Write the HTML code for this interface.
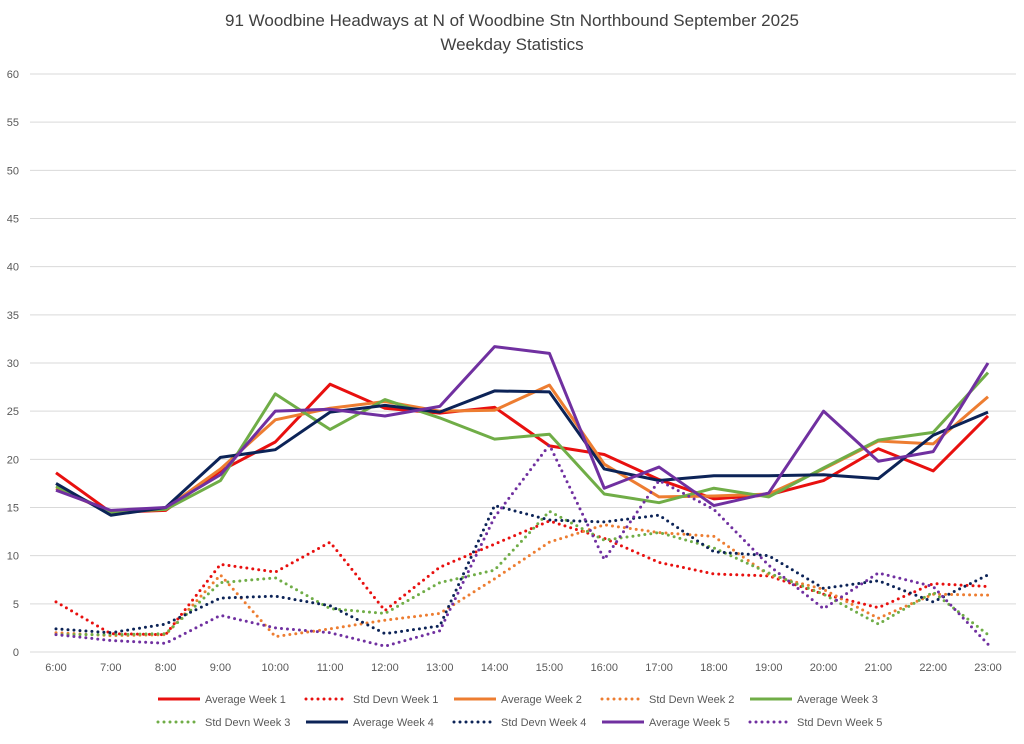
<!DOCTYPE html>
<html><head><meta charset="utf-8"><style>
body{margin:0;background:#fff;font-family:"Liberation Sans",sans-serif}
svg text{font-family:"Liberation Sans",sans-serif}
</style></head><body>
<svg id="chart" width="1024" height="739" xmlns="http://www.w3.org/2000/svg">
<text x="512" y="26" text-anchor="middle" font-size="17" fill="#404040">91 Woodbine Headways at N of Woodbine Stn Northbound September 2025</text>
<text x="512" y="50" text-anchor="middle" font-size="17" fill="#404040">Weekday Statistics</text>
<g id="grid"></g><g id="series"></g><g id="legend"></g>
</svg>
<script>
const categories=["6:00","7:00","8:00","9:00","10:00","11:00","12:00","13:00","14:00","15:00","16:00","17:00","18:00","19:00","20:00","21:00","22:00","23:00"];
const yTicks=[0,5,10,15,20,25,30,35,40,45,50,55,60];
const avgW1=[18.6,14.5,14.7,18.8,21.8,27.8,25.3,24.8,25.4,21.4,20.5,17.9,15.9,16.3,17.8,21.1,18.8,24.5];
const sdW1=[5.2,1.9,1.8,9.1,8.3,11.4,4.3,8.8,11.2,13.6,11.8,9.3,8.1,7.9,6.0,4.6,7.1,6.8];
const avgW2=[17.0,14.5,14.9,19.0,24.1,25.3,26.0,25.0,25.1,27.7,19.5,16.1,16.2,16.4,19.0,21.9,21.6,26.5];
const sdW2=[2.0,1.7,1.8,8.0,1.6,2.4,3.3,4.0,7.6,11.4,13.2,12.4,12.0,8.0,6.5,3.5,6.0,5.9];
const avgW3=[17.2,14.5,14.8,17.8,26.8,23.1,26.2,24.3,22.1,22.6,16.4,15.5,17.0,16.1,19.1,22.0,22.8,29.0];
const sdW3=[1.8,1.8,1.9,7.2,7.7,4.5,4.0,7.2,8.5,14.6,11.6,12.4,10.8,8.2,6.0,2.9,6.2,1.8];
const avgW4=[17.5,14.2,15.0,20.2,21.0,24.9,25.6,24.9,27.1,27.0,19.0,17.8,18.3,18.3,18.4,18.0,22.5,24.9];
const sdW4=[2.4,2.0,2.9,5.6,5.8,4.8,1.9,2.7,15.2,13.7,13.5,14.2,10.4,10.0,6.6,7.4,5.2,8.0];
const avgW5=[16.8,14.7,15.0,18.4,25.0,25.2,24.5,25.5,31.7,31.0,17.0,19.2,15.2,16.5,25.0,19.8,20.8,30.0];
const sdW5=[1.8,1.2,0.9,3.8,2.5,2.0,0.6,2.2,14.0,21.5,9.6,17.8,14.8,9.0,4.5,8.2,6.8,0.8];
const seriesNames=["Average Week 1","Std Devn Week 1","Average Week 2","Std Devn Week 2","Average Week 3","Std Devn Week 3","Average Week 4","Std Devn Week 4","Average Week 5","Std Devn Week 5"];

const NS="http://www.w3.org/2000/svg";
const X0=56,X1=988,Y0=652,Y60=74,XL=30,XR=1016;
const xs=i=>X0+i*(X1-X0)/(categories.length-1);
const ys=v=>Y0-v*(Y0-Y60)/60;
function mk(t,a,p){const e=document.createElementNS(NS,t);for(const k in a)e.setAttribute(k,a[k]);p.appendChild(e);return e;}
const grid=document.getElementById('grid');
yTicks.forEach(v=>{
 const l=mk('line',{x1:XL,x2:XR,y1:ys(v),y2:ys(v),stroke:'#d9d9d9','stroke-width':1},grid);
 
 
 const t=mk('text',{x:19,y:ys(v)+4,'text-anchor':'end','font-size':11,fill:'#595959'},grid);
 t.textContent=v;
 
 
});
categories.forEach((c,i)=>{
 const t=mk('text',{x:xs(i),y:671,'text-anchor':'middle','font-size':11,fill:'#595959'},grid);
 t.textContent=c;
 
 
});
const colors=['#e8100f','#ed7d31','#70ad47','#0c2357','#7030a0'];
const data=[avgW1,sdW1,avgW2,sdW2,avgW3,sdW3,avgW4,sdW4,avgW5,sdW5];
const sg=document.getElementById('series');
data.forEach((arr,k)=>{
 const col=colors[Math.floor(k/2)],dot=k%2===1;
 const a={points:arr.map((v,i)=>xs(i)+','+ys(v)).join(' '),fill:'none',stroke:col,'stroke-width':3,'stroke-linejoin':'round'};
 if(dot){a['stroke-dasharray']='0 6';a['stroke-linecap']='round';}
 const p=mk('polyline',a,sg);
 
 
});
const lg=document.getElementById('legend');
seriesNames.forEach((n,k)=>{
 const row=k<5?0:1,col=k%5;
 const x=158+col*148,y=row?722:699;
 const g=mk('g',{},lg);
 
 
 const a={x1:x,x2:x+42,y1:y,y2:y,stroke:colors[Math.floor(k/2)],'stroke-width':3};
 if(k%2){a['stroke-dasharray']='0 6';a['stroke-linecap']='round';}
 mk('line',a,g);
 const t=mk('text',{x:x+47,y:y+4,'font-size':11,fill:'#595959'},g);
 t.textContent=n;
});
</script>
</body></html>
